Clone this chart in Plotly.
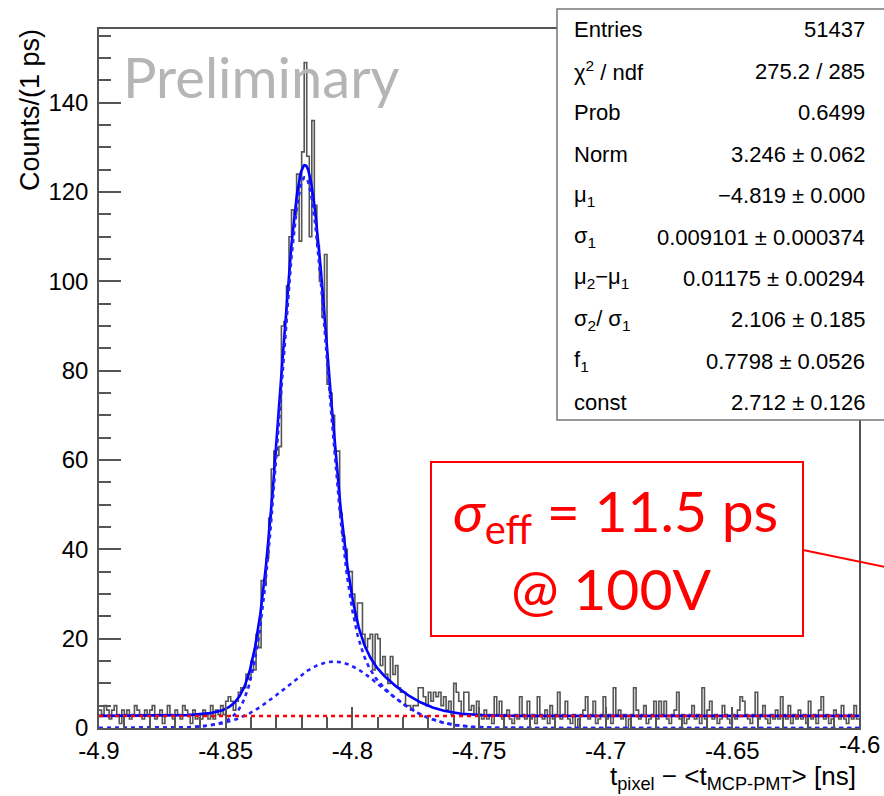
import numpy as np
import plotly.graph_objects as go

# ---------------- data ----------------
X_MIN, X_MAX = -4.9, -4.6
BIN_WIDTH = 0.001  # ns (1 ps)
Y_MAX = 156.5

BIN_COUNTS = [
    # -4.900 .. -4.851
    4, 3, 5, 4, 2, 4, 5, 3, 1, 4,
    3, 4, 2, 3, 5, 4, 3, 2, 4, 3,
    4, 5, 2, 3, 4, 1, 3, 5, 3, 2,
    4, 3, 2, 5, 4, 3, 1, 4, 2, 3,
    2, 4, 3, 2, 5, 2, 4, 3, 5, 3,
    # -4.850 .. -4.801
    6, 7, 6, 4, 6, 8, 9, 9, 12, 11,
    15, 13, 21, 18, 33, 32, 38, 47, 58, 62,
    61, 63, 90, 91, 99, 110, 116, 115, 124, 109,
    129, 149, 128, 110, 136, 117, 108, 100, 92, 106,
    77, 75, 70, 62, 62, 48, 43, 40, 35, 35,
    # -4.800 .. -4.751
    30, 24, 28, 28, 21, 18, 20, 21, 13, 21,
    20, 14, 16, 12, 10, 16, 12, 14, 9, 8,
    8, 5, 5, 4, 5, 5, 9, 9, 7, 5,
    8, 6, 8, 7, 8, 5, 7, 4, 6, 3,
    10, 8, 6, 3, 8, 8, 4, 5, 3, 6,
    # -4.750 .. -4.701
    3, 2, 4, 2, 3, 1, 7, 3, 6, 2,
    3, 4, 2, 1, 3, 2, 7, 3, 2, 6,
    2, 3, 1, 7, 3, 2, 4, 1, 5, 2,
    3, 8, 2, 3, 6, 2, 1, 3, 0, 2,
    3, 4, 7, 2, 3, 6, 1, 2, 3, 7,
    # -4.700 .. -4.651
    2, 3, 1, 9, 3, 4, 2, 3, 0, 2,
    3, 9, 4, 2, 3, 5, 1, 2, 3, 6,
    2, 6, 3, 6, 2, 1, 3, 4, 8, 2,
    3, 1, 2, 3, 5, 2, 3, 1, 9, 2,
    4, 6, 2, 3, 1, 2, 5, 3, 2, 1,
    # -4.650 .. -4.601
    3, 2, 4, 7, 6, 3, 2, 1, 3, 8,
    2, 3, 5, 2, 1, 3, 2, 4, 2, 7,
    3, 2, 5, 1, 3, 2, 4, 2, 3, 1,
    6, 2, 3, 1, 4, 7, 2, 3, 1, 2,
    4, 3, 2, 5, 2, 1, 3, 2, 5, 2,
]

# fit parameters (as printed in the stats box)
FIT_NORM = 3.246
FIT_MU1 = -4.819
FIT_SIGMA1 = 0.009101
FIT_DMU = 0.01175
FIT_SRATIO = 2.106
FIT_F1 = 0.7798
FIT_CONST = 2.712

X_TICKS = [-4.9, -4.85, -4.8, -4.75, -4.7, -4.65, -4.6]
X_TICK_LABELS = ["-4.9", "-4.85", "-4.8", "-4.75", "-4.7", "-4.65", "-4.6"]
Y_TICKS = [0, 20, 40, 60, 80, 100, 120, 140]
Y_TICK_LABELS = ["0", "20", "40", "60", "80", "100", "120", "140"]

STATS_LABELS = ["Entries", "χ<sup>2</sup> / ndf", "Prob", "Norm", "μ<sub>1</sub>",
                "σ<sub>1</sub>", "μ<sub>2</sub>−μ<sub>1</sub>", "σ<sub>2</sub>/ σ<sub>1</sub>",
                "f<sub>1</sub>", "const"]
STATS_VALUES = ["51437", "275.2 / 285", "0.6499", "3.246 ± 0.062", "−4.819 ± 0.000",
                "0.009101 ± 0.000374", "0.01175 ± 0.00294", "2.106 ± 0.185",
                "0.7798 ± 0.0526", "2.712 ± 0.126"]

# ---------------- geometry helpers ----------------
W, H = 884, 796
L, R, T, B = 99, 859, 29, 728   # plot area in px


def px(xp):
    return (xp - L) / (R - L)


def py(yp):
    return (B - yp) / (B - T)


# ---------------- traces ----------------
counts = np.array(BIN_COUNTS, dtype=float)
edges = X_MIN + BIN_WIDTH * np.arange(len(counts) + 1)
step_y = np.append(counts, counts[-1])


def gauss(x, mu, s):
    return np.exp(-0.5 * ((x - mu) / s) ** 2) / (np.sqrt(2 * np.pi) * s)


xf = np.linspace(X_MIN, X_MAX, 1500)
mu2 = FIT_MU1 + FIT_DMU
s2 = FIT_SIGMA1 * FIT_SRATIO
g1 = FIT_NORM * FIT_F1 * gauss(xf, FIT_MU1, FIT_SIGMA1)
g2 = FIT_NORM * (1 - FIT_F1) * gauss(xf, mu2, s2)
signal = g1 + g2
total = FIT_CONST + signal

fig = go.Figure()
fig.add_trace(go.Scatter(x=edges, y=step_y, mode="lines", line_shape="hv",
                         line=dict(color="#555555", width=1.6), hoverinfo="skip"))
fig.add_trace(go.Scatter(x=xf, y=total, mode="lines",
                         line=dict(color="#0000ff", width=2.6)))
fig.add_trace(go.Scatter(x=xf, y=signal, mode="lines",
                         line=dict(color="#2222ff", width=2.6, dash="4px,4px")))
fig.add_trace(go.Scatter(x=xf, y=g2, mode="lines",
                         line=dict(color="#2222ff", width=2.6, dash="4px,4px")))
fig.add_trace(go.Scatter(x=[X_MIN, X_MAX], y=[FIT_CONST, FIT_CONST], mode="lines",
                         line=dict(color="#ff0000", width=2.5, dash="4px,4px")))

tick_font = dict(family="Liberation Sans, Arial, sans-serif", size=24, color="black")

# the last x tick label sits at the figure edge: draw it as an annotation
axis_tick_text = X_TICK_LABELS[:-1] + [""]

fig.update_layout(
    width=W, height=H, autosize=False,
    margin=dict(l=L, r=W - R, t=T, b=H - B, pad=0),
    paper_bgcolor="white", plot_bgcolor="white",
    showlegend=False,
    xaxis=dict(range=[X_MIN, X_MAX], tickmode="array", tickvals=X_TICKS,
               ticktext=axis_tick_text, ticks="inside", ticklen=21, tickwidth=1.5,
               tickcolor="#555", showline=True, linecolor="#555", linewidth=1.5,
               mirror=True, showgrid=False, zeroline=False, tickfont=tick_font,
               minor=dict(dtick=0.01, tick0=X_MIN, ticks="inside", ticklen=11,
                          tickwidth=1.5, tickcolor="#555", showgrid=False)),
    yaxis=dict(range=[0, Y_MAX], tickmode="array", tickvals=Y_TICKS,
               ticktext=Y_TICK_LABELS, ticks="inside", ticklen=22, tickwidth=1.5,
               tickcolor="#555", showline=True, linecolor="#555", linewidth=1.5,
               mirror=True, showgrid=False, zeroline=False, tickfont=tick_font,
               ticklabelstandoff=4,
               minor=dict(dtick=5, tick0=0, ticks="inside", ticklen=12,
                          tickwidth=1.5, tickcolor="#555", showgrid=False)),
)

shapes = []
annots = []

annots.append(dict(xref="x", yref="paper", x=X_TICKS[-1], y=py(745),
                   text=X_TICK_LABELS[-1], showarrow=False, xanchor="center",
                   yanchor="middle", font=tick_font))

# stats box
shapes.append(dict(type="rect", xref="paper", yref="paper", x0=px(557), x1=px(895),
                   y0=py(420), y1=py(9), fillcolor="white",
                   line=dict(color="#777", width=1.5), layer="above"))
stat_font = dict(family="Liberation Sans, Arial, sans-serif", size=22, color="black")
for k, (lab, val) in enumerate(zip(STATS_LABELS, STATS_VALUES)):
    yc = 30 + 41.4 * k
    annots.append(dict(xref="paper", yref="paper", x=px(572), y=py(yc), text=lab,
                       showarrow=False, xanchor="left", yanchor="middle", font=stat_font))
    annots.append(dict(xref="paper", yref="paper", x=px(867), y=py(yc), text=val,
                       showarrow=False, xanchor="right", yanchor="middle", font=stat_font))

# red annotation box
shapes.append(dict(type="rect", xref="paper", yref="paper", x0=px(431), x1=px(803),
                   y0=py(636), y1=py(462), line=dict(color="#ff0000", width=2),
                   fillcolor="rgba(0,0,0,0)", layer="above"))
shapes.append(dict(type="line", xref="paper", yref="paper", x0=px(803), y0=py(550),
                   x1=px(895), y1=py(569), line=dict(color="#ff0000", width=2),
                   layer="above"))
red_font = dict(family="Lato, Carlito, sans-serif", size=57, color="#ff0000")
annots.append(dict(xref="paper", yref="paper", x=px(615), y=py(514),
                   text="<i>σ</i><sub>eff</sub> = 11.5 ps", showarrow=False,
                   xanchor="center", yanchor="middle", font=red_font))
annots.append(dict(xref="paper", yref="paper", x=px(611), y=py(588),
                   text="@ 100V", showarrow=False,
                   xanchor="center", yanchor="middle", font=red_font))

# Preliminary
annots.append(dict(xref="paper", yref="paper", x=px(121), y=py(76), text="Preliminary",
                   showarrow=False, xanchor="left", yanchor="middle",
                   font=dict(family="Lato, sans-serif", size=56, color="#b5b5b5")))

# axis titles
annots.append(dict(xref="paper", yref="paper", x=px(30), y=py(110), text="Counts/(1 ps)",
                   showarrow=False, textangle=-90, xanchor="center", yanchor="middle",
                   font=dict(family="Liberation Sans, Arial, sans-serif", size=27,
                             color="black")))
annots.append(dict(xref="paper", yref="paper", x=px(858), y=py(777),
                   text="t<sub>pixel</sub> − <t<sub>MCP-PMT</sub>> [ns]",
                   showarrow=False, xanchor="right", yanchor="middle",
                   font=dict(family="Liberation Sans, Arial, sans-serif", size=26,
                             color="black")))

fig.update_layout(shapes=shapes, annotations=annots)
fig.write_html("out.html")
